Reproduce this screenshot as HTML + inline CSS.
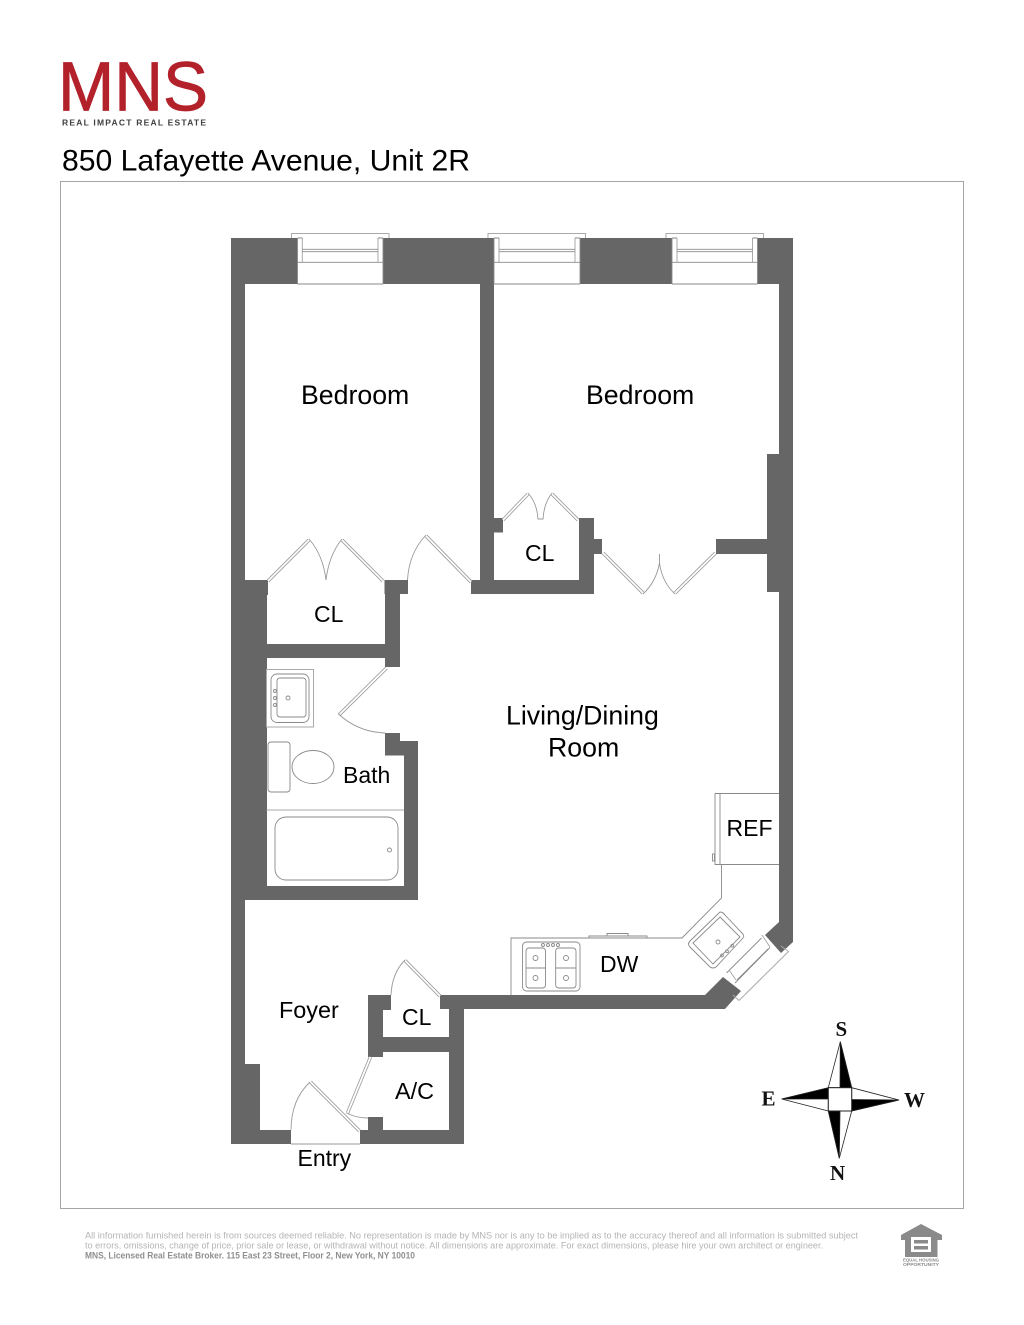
<!DOCTYPE html>
<html><head><meta charset="utf-8"><style>
html,body{margin:0;padding:0;background:#fff}
svg{display:block}
text{font-family:"Liberation Sans",sans-serif;fill:#000}
.l{font-size:23px}
.b{font-size:26.700px}
.c{font-family:"Liberation Serif",serif;font-weight:bold;font-size:21px;fill:#111}
.f{font-size:9.300px;fill:#b4b4b4}
.t{fill:none;stroke:#8a8a8a;stroke-width:.9}
.w{fill:none;stroke:#aaa;stroke-width:1}
.lo{stroke:#999;stroke-width:3.400;fill:none}
.li{stroke:#fff;stroke-width:1.800;fill:none}
.a{fill:none;stroke:#999;stroke-width:.9}
</style></head><body>
<svg width="1024" height="1325" viewBox="0 0 1024 1325" xmlns="http://www.w3.org/2000/svg">
<rect width="1024" height="1325" fill="#fff"/>

<!-- logo -->
<text x="58" y="110.500" textLength="150" lengthAdjust="spacingAndGlyphs" style="font-size:69.500px;fill:#b3222b;stroke:#b3222b;stroke-width:.8">MNS</text>
<text x="62" y="125.500" textLength="144" style="font-size:8.500px;font-weight:bold;fill:#3f3f3f">REAL IMPACT REAL ESTATE</text>
<text x="62" y="170.500" textLength="408" lengthAdjust="spacingAndGlyphs" style="font-size:30px">850 Lafayette Avenue, Unit 2R</text>
<rect x="60.500" y="181.500" width="903" height="1027" fill="none" stroke="#a5a5a5"/>

<!-- walls -->
<g fill="#666">
<rect x="231" y="238" width="66.500" height="46"/>
<rect x="383" y="238" width="111" height="46"/>
<rect x="580" y="238" width="92" height="46"/>
<rect x="757.500" y="238" width="35.500" height="46"/>
<rect x="231" y="238" width="14" height="906"/>
<rect x="231" y="580" width="36" height="320"/>
<rect x="245" y="580" width="23" height="15"/>
<rect x="231" y="1064" width="29" height="80"/>
<rect x="231" y="1130" width="60" height="14"/>
<rect x="480" y="284" width="14" height="310"/>
<rect x="384.500" y="580" width="23.500" height="14"/>
<rect x="385" y="580" width="15" height="87"/>
<rect x="267" y="644" width="133" height="14"/>
<rect x="471" y="580" width="123" height="14"/>
<rect x="494" y="518" width="9" height="14.500"/>
<rect x="579" y="518" width="15" height="76"/>
<rect x="594" y="539" width="8" height="15"/>
<rect x="716" y="539" width="51" height="15"/>
<rect x="767" y="454" width="26" height="138"/>
<rect x="779" y="284" width="14" height="500"/>
<rect x="385" y="733" width="15" height="9"/>
<rect x="385" y="741" width="33" height="14.500"/>
<rect x="404" y="741" width="14" height="159"/>
<rect x="245" y="886" width="173" height="14"/>
<polygon points="779,780 793,780 793,942 781,953 765,935 779,922"/>
<polygon points="723,977 741,991 725,1009 440,1009 440,995 705,995"/>
<rect x="368" y="995" width="23" height="15"/>
<rect x="368" y="995" width="15" height="62"/>
<rect x="368" y="1037" width="96" height="15"/>
<rect x="449" y="995" width="15" height="149"/>
<rect x="360" y="1130" width="104" height="14"/>
<rect x="368" y="1117" width="15" height="13"/>
</g>

<!-- windows -->
<g>
<path class="w" d="M291.500 238V233.500H389V238"/>
<path class="t" d="M297.500 238V284M383 238V284M297.500 262.300H383M297.500 284H383"/>
<path class="w" d="M302.300 238V262M378 238V262"/>
<path class="t" d="M297.500 238H302.300M378 238H383M302 249.300H378M302 251.700H378"/>
<path class="w" d="M488 238V233.500H585.500V238"/>
<path class="t" d="M494 238V284M580 238V284M494 262.300H580M494 284H580"/>
<path class="w" d="M499 238V262M575 238V262"/>
<path class="t" d="M494 238H499M575 238H580M499 249.300H575M499 251.700H575"/>
<path class="w" d="M666 238V233.500H763.500V238"/>
<path class="t" d="M672 238V284M757.500 238V284M672 262.300H757.500M672 284H757.500"/>
<path class="w" d="M677 238V262M752.500 238V262"/>
<path class="t" d="M672 238H677M752.500 238H757.500M677 249.300H752.500M677 251.700H752.500"/>
<path class="t" d="M726.500 973L761.500 938M737 980L768 949M735 983L770 947.500"/>
<path class="w" d="M739 1000.500L788.500 951.500L781 946M739 1000.500L733 995M729 970L736 980M762 935L770 947"/>
</g>

<!-- doors -->
<g>
<path class="lo" d="M268 581L309 540"/><path class="li" d="M268 581L309 540"/>
<path class="lo" d="M383 581L342 540"/><path class="li" d="M383 581L342 540"/>
<path class="a" d="M309 539Q323 555 326 580M342 539Q329 555 326 580"/>
<path class="lo" d="M471 582L426 536"/><path class="li" d="M471 582L426 536"/>
<path class="a" d="M426 535Q409 553 407.500 580"/>
<path class="lo" d="M503 520L528 494"/><path class="li" d="M503 520L528 494"/>
<path class="lo" d="M578 520L552 494"/><path class="li" d="M578 520L552 494"/>
<path class="a" d="M528 493Q537 503 538 519H543Q544 503 552 493"/>
<path class="lo" d="M603 553L643 593"/><path class="li" d="M603 553L643 593"/>
<path class="lo" d="M715.500 553L675 593"/><path class="li" d="M715.500 553L675 593"/>
<path class="a" d="M643 594Q656 582 659.500 563V554M675 594Q662 582 659.500 563"/>
<path class="lo" d="M386.500 668L339 715"/><path class="li" d="M386.500 668L339 715"/>
<path class="a" d="M338.500 714Q358 732 385 733"/>
<path class="lo" d="M359.500 1131L310.500 1082"/><path class="li" d="M359.500 1131L310.500 1082"/>
<path class="a" d="M310 1082Q291 1100 291 1130M291 1144H360"/>
<path class="lo" d="M370.500 1057L347.500 1113"/><path class="li" d="M370.500 1057L347.500 1113"/>
<path class="a" d="M346.500 1113Q356 1118 368 1118"/>
<path class="lo" d="M440 996L405 960.500"/><path class="li" d="M440 996L405 960.500"/>
<path class="a" d="M405 960Q392 973 391 995"/>
</g>

<!-- bath fixtures -->
<g class="t">
<rect x="266.500" y="669.500" width="47" height="57.500" class="w"/>
<rect x="271" y="674" width="38" height="48.500" rx="6" class="t"/>
<rect x="277" y="678" width="29" height="39" rx="3" class="t"/>
<circle cx="288" cy="698" r="2" class="t"/>
<circle cx="275" cy="691" r="1.500" class="t"/>
<circle cx="275" cy="698" r="1.500" class="t"/>
<circle cx="275" cy="705" r="1.500" class="t"/>
<rect x="268" y="742" width="22" height="50" rx="3" class="t"/>
<ellipse cx="313" cy="767" rx="21" ry="16.500" class="t"/>
<path d="M266.500 810H404" class="w"/>
<rect x="275" y="817" width="123" height="63" rx="11" class="t"/>
<circle cx="389.500" cy="850" r="2" class="t"/>
</g>

<!-- kitchen -->
<g>
<path class="t" d="M720 793.500H779M720 864.500H779M720 793.500V864.500M715 793.500H720M715 793.500V864.500H720M721.500 864.500V898L682 938H511V995"/>
<rect x="712.500" y="854" width="2" height="7" class="t"/>
<path class="t" d="M589 938V936H647V938M607 936V933.500H628V936"/>
<rect x="522.500" y="942" width="57.500" height="49" rx="4" class="t"/>
<rect x="526" y="948" width="19.500" height="40" rx="3" class="t"/>
<rect x="555.700" y="948" width="20.300" height="40" rx="3" class="t"/>
<path class="t" d="M526 968H545.500M555.700 968H576"/>
<circle cx="535.500" cy="958" r="2.500" class="t"/>
<circle cx="535.500" cy="978" r="2.500" class="t"/>
<circle cx="566" cy="958" r="2.500" class="t"/>
<circle cx="566" cy="978" r="2.500" class="t"/>
<circle cx="543" cy="945" r="1.500" class="t"/>
<circle cx="548" cy="945" r="1.500" class="t"/>
<circle cx="553" cy="945" r="1.500" class="t"/>
<circle cx="558" cy="945" r="1.500" class="t"/>
<path class="t" d="M720 912Q723 912 725 915L742 933Q745 936 743 938L716 967Q713 969 710 967L690 947Q687 944 690 941Z"/>
<path class="t" d="M720 917L740 937L713 964L693 943Z"/>
<circle cx="718" cy="942" r="2" class="t"/>
<circle cx="722" cy="955.500" r="1.400" class="t"/>
<circle cx="727" cy="951.300" r="1.400" class="t"/>
<circle cx="732.300" cy="945.700" r="1.400" class="t"/>
</g>

<!-- labels -->
<text x="301" y="404" class="b">Bedroom</text>
<text x="586" y="404" class="b">Bedroom</text>
<text x="525" y="561" class="l">CL</text>
<text x="314" y="622" class="l">CL</text>
<text x="506" y="724.500" class="b">Living/Dining</text>
<text x="548" y="756.500" class="b">Room</text>
<text x="343" y="783" class="l">Bath</text>
<text x="726.500" y="836" class="l">REF</text>
<text x="600" y="972" class="l">DW</text>
<text x="279" y="1018" class="l" style="font-size:23.400px">Foyer</text>
<text x="402" y="1025" class="l">CL</text>
<text x="395" y="1099" class="l" style="font-size:23.400px">A/C</text>
<text x="297.500" y="1166" class="l">Entry</text>

<!-- compass -->
<g stroke="#222" stroke-width=".8">
<polygon points="840.300,1041.700 828.300,1087.700 851.700,1087.700" fill="#fff"/>
<polygon points="840.300,1041.700 851.700,1087.700 840,1087.700" fill="#000"/>
<polygon points="899,1100 851.700,1087.700 851.700,1111" fill="#fff"/>
<polygon points="899,1100 851.700,1111 851.700,1099.500" fill="#000"/>
<polygon points="839.300,1158.300 828.300,1111 851.700,1111" fill="#fff"/>
<polygon points="839.300,1158.300 828.300,1111 840,1111" fill="#000"/>
<polygon points="781.700,1099 828.300,1087.700 828.300,1111" fill="#fff"/>
<polygon points="781.700,1099 828.300,1087.700 828.300,1099" fill="#000"/>
<rect x="828.300" y="1087.700" width="23.400" height="23.300" fill="#fff" stroke-width="1"/>
</g>
<text x="835.500" y="1036" class="c">S</text>
<text x="761.500" y="1105.500" class="c">E</text>
<text x="904" y="1107" class="c">W</text>
<text x="830" y="1180" class="c">N</text>

<!-- footer -->
<text x="85" y="1238.500" textLength="773" lengthAdjust="spacingAndGlyphs" class="f">All information furnished herein is from sources deemed reliable. No representation is made by MNS nor is any to be implied as to the accuracy thereof and all information is submitted subject</text>
<text x="85" y="1248.500" textLength="738" lengthAdjust="spacingAndGlyphs" class="f">to errors, omissions, change of price, prior sale or lease, or withdrawal without notice. All dimensions are approximate. For exact dimensions, please hire your own architect or engineer.</text>
<text x="85" y="1258.500" textLength="330" lengthAdjust="spacingAndGlyphs" class="f" style="font-weight:bold;fill:#8f8f8f">MNS, Licensed Real Estate Broker. 115 East 23 Street, Floor 2, New York, NY 10010</text>

<!-- equal housing -->
<path fill="#8a8a8a" fill-rule="evenodd" d="M921 1224L942 1235V1240H937.500V1257H905V1240H901V1235ZM911 1237V1252H931V1237Z"/>
<rect x="914" y="1240" width="14" height="3.500" fill="#8a8a8a"/>
<rect x="914" y="1246" width="14" height="3.500" fill="#8a8a8a"/>
<text x="903" y="1261.500" textLength="36" lengthAdjust="spacingAndGlyphs" style="font-size:4.500px;font-weight:bold;fill:#8a8a8a">EQUAL HOUSING</text>
<text x="903" y="1266" textLength="36" lengthAdjust="spacingAndGlyphs" style="font-size:4.500px;font-weight:bold;fill:#8a8a8a">OPPORTUNITY</text>
</svg>
</body></html>
